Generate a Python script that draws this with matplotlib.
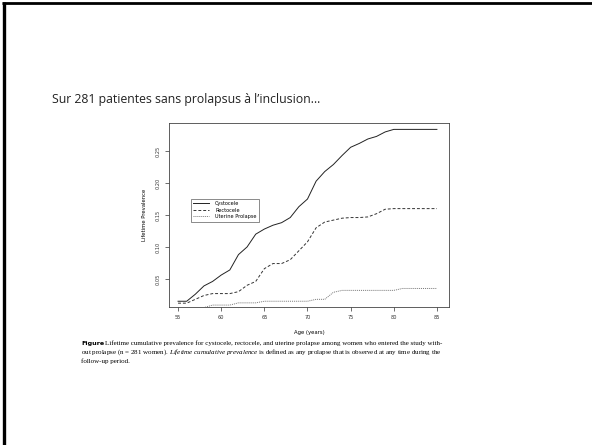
import matplotlib
matplotlib.use("Agg")
import matplotlib.pyplot as plt
from matplotlib.lines import Line2D

### donnees
ages = list(range(55, 86))
cystocele = [0.015, 0.015, 0.026, 0.039, 0.046, 0.056, 0.064, 0.088, 0.100, 0.120,
             0.128, 0.134, 0.138, 0.146, 0.163, 0.175, 0.203, 0.218, 0.229, 0.243,
             0.256, 0.262, 0.269, 0.273, 0.280, 0.284, 0.284, 0.284, 0.284, 0.284, 0.284]
rectocele = [0.012, 0.012, 0.018, 0.024, 0.027, 0.027, 0.027, 0.030, 0.040, 0.046,
             0.066, 0.074, 0.074, 0.080, 0.094, 0.108, 0.130, 0.139, 0.142, 0.145,
             0.146, 0.146, 0.147, 0.152, 0.159, 0.160, 0.160, 0.160, 0.160, 0.160, 0.160]
uterine = [0.005, 0.005, 0.005, 0.005, 0.009, 0.009, 0.009, 0.0125, 0.0125, 0.0125,
           0.015, 0.015, 0.015, 0.015, 0.015, 0.015, 0.018, 0.018, 0.029, 0.032,
           0.032, 0.032, 0.032, 0.032, 0.032, 0.032, 0.035, 0.035, 0.035, 0.035, 0.035]
xticks = [55, 60, 65, 70, 75, 80, 85]
yticks = [0.05, 0.10, 0.15, 0.20, 0.25]
legend_labels = ["Cystocele", "Rectocele", "Uterine Prolapse"]

### italique de la legende en serif
plt.rcParams["mathtext.fontset"] = "custom"
plt.rcParams["mathtext.rm"] = "Liberation Serif"
plt.rcParams["mathtext.it"] = "Liberation Serif:italic"

W, H = 592, 445
fig = plt.figure(figsize=(W / 100, H / 100), dpi=100)

### bordure de la diapo (gauche et haut)
fig.add_artist(Line2D([3.5 / W, 3.5 / W], [0, 1 - 2 / H], transform=fig.transFigure,
                      color="black", lw=2.4, solid_capstyle="butt"))
fig.add_artist(Line2D([2 / W, 1], [1 - 3 / H, 1 - 3 / H], transform=fig.transFigure,
                      color="black", lw=2.0, solid_capstyle="butt"))

### titre
fig.text(52 / W, 1 - 100 / H, "Sur 281 patientes sans prolapsus à l\u2019inclusion\u2026",
         family="Open Sans", fontsize=8.8, va="center", ha="left", color="#222222")

### graphique
ax = fig.add_axes([169 / W, 1 - 307 / H, 280 / W, 184 / H])
ax.plot(ages, cystocele, color="#222222", lw=0.7, ls="-")
ax.plot(ages, rectocele, color="#333333", lw=0.7, ls=(0, (3, 2)))
ax.plot(ages, uterine, color="#777777", lw=0.7, ls=(0, (1, 1)))
ax.set_xlim(53.95, 86.4)
ax.set_ylim(0.006, 0.294)
ax.set_xticks(xticks)
ax.set_yticks(yticks)
ax.set_xticklabels([str(x) for x in xticks])
ax.set_yticklabels(["%.2f" % y for y in yticks], rotation=90, va="center")
ax.tick_params(direction="out", length=3, width=0.5, labelsize=3.6, pad=3, colors="#333333")
for sp in ax.spines.values():
    sp.set_linewidth(0.6)
    sp.set_color("#444444")
ax.set_xlabel("Age (years)", fontsize=3.8, labelpad=7, family="DejaVu Sans")
ax.set_ylabel("Lifetime Prevalence", fontsize=3.8, labelpad=6, family="DejaVu Sans")

leg = ax.legend(ax.get_lines(), legend_labels, loc="upper left",
                bbox_to_anchor=((188 - 169) / 280, (307 - 196) / 184),
                fontsize=3.6, frameon=True, fancybox=False, handlelength=3.2,
                borderpad=0.5, labelspacing=0.3, handletextpad=1.2)
leg.get_frame().set_edgecolor("#333333")
leg.get_frame().set_linewidth(0.5)

### legende de la figure
fig.text(81 / W, 1 - 343 / H, "Figure", fontsize=4.6, weight="bold",
         family="DejaVu Sans", va="center", ha="left")
fig.text(105 / W, 1 - 343 / H,
         "Lifetime cumulative prevalence for cystocele, rectocele, and uterine prolapse among women who entered the study with-",
         fontsize=5.0, family="Liberation Serif", va="center", ha="left")
fig.text(81 / W, 1 - 352 / H,
         "out prolapse (n = 281 women). $\\it{Lifetime\\ cumulative\\ prevalence}$ is defined as any prolapse that is observed at any time during the",
         fontsize=5.0, family="Liberation Serif", va="center", ha="left")
fig.text(81 / W, 1 - 361 / H, "follow-up period.",
         fontsize=5.0, family="Liberation Serif", va="center", ha="left")

plt.savefig("out.png", dpi=100)
plt.close("all")
